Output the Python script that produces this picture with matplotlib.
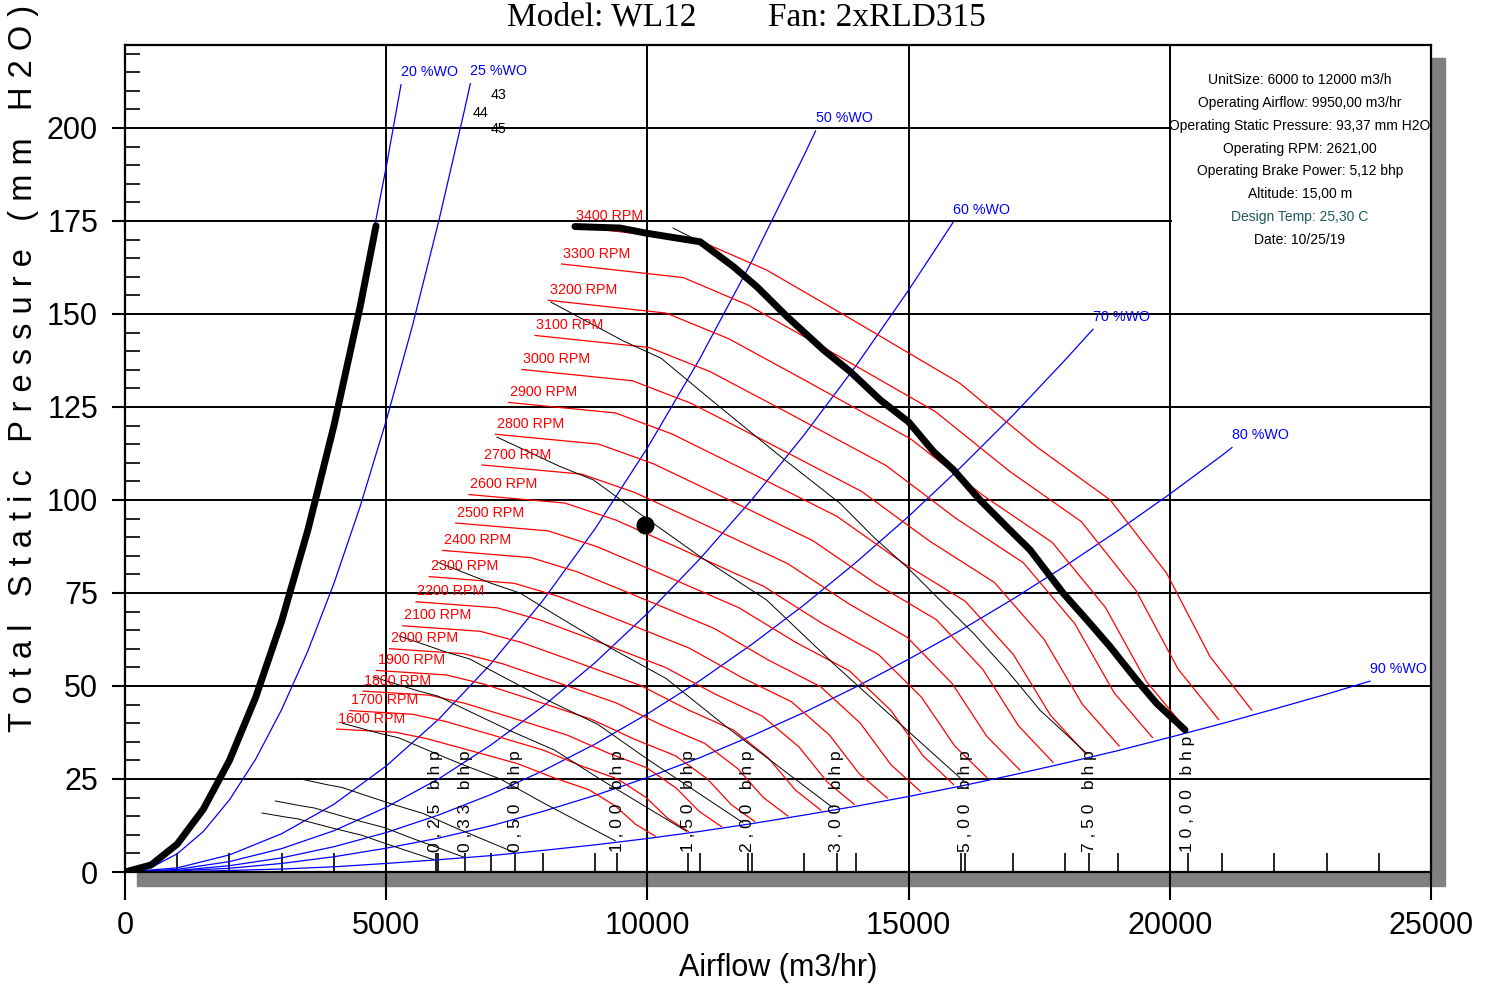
import matplotlib
matplotlib.use("Agg")
import matplotlib.pyplot as plt
from matplotlib import font_manager
from matplotlib.patches import Rectangle
from matplotlib.ticker import FixedLocator, MultipleLocator

# fan curves (constant RPM), airflow m3/hr vs static pressure mm H2O
rpm_labels = [1600, 1700, 1800, 1900, 2000, 2100, 2200, 2300, 2400, 2500,
              2600, 2700, 2800, 2900, 3000, 3100, 3200, 3300, 3400]
rpm_q = [
    [4052, 5181, 5780, 6532, 7520, 8212, 8875, 9384, 9774, 10151],
    [4305, 5505, 6141, 6940, 7990, 8725, 9430, 9970, 10385, 10785],
    [4558, 5829, 6503, 7348, 8460, 9238, 9985, 10556, 10996, 11419],
    [4812, 6153, 6864, 7757, 8930, 9752, 10539, 11143, 11607, 12054],
    [5065, 6476, 7225, 8165, 9400, 10265, 11094, 11729, 12218, 12688],
    [5318, 6800, 7586, 8573, 9870, 10778, 11649, 12316, 12828, 13323],
    [5571, 7124, 7948, 8981, 10340, 11291, 12204, 12902, 13439, 13957],
    [5825, 7448, 8309, 9390, 10810, 11805, 12758, 13489, 14050, 14591],
    [6078, 7772, 8670, 9798, 11280, 12318, 13313, 14075, 14661, 15226],
    [6331, 8096, 9032, 10206, 11750, 12831, 13868, 14662, 15272, 15860],
    [6584, 8419, 9393, 10614, 12220, 13344, 14422, 15248, 15883, 16495],
    [6837, 8743, 9754, 11022, 12690, 13857, 14977, 15835, 16494, 17129],
    [7091, 9067, 10115, 11431, 13160, 14371, 15532, 16421, 17105, 17763],
    [7344, 9391, 10477, 11839, 13630, 14884, 16087, 17008, 17716, 18398],
    [7597, 9715, 10838, 12247, 14100, 15397, 16641, 17594, 18326, 19032],
    [7850, 10038, 11199, 12655, 14570, 15910, 17196, 18181, 18937, 19667],
    [8104, 10362, 11560, 13064, 15040, 16424, 17751, 18767, 19548, 20301],
    [8357, 10686, 11922, 13472, 15510, 16937, 18305, 19354, 20159, 20936],
    [8610, 11010, 12283, 13880, 15980, 17450, 18860, 19940, 20770, 21570],
]
rpm_p = [
    [38.42, 37.56, 35.83, 32.95, 29.10, 25.31, 22.15, 17.78, 12.82, 9.63],
    [43.38, 42.40, 40.45, 37.20, 32.85, 28.57, 25.00, 20.08, 14.48, 10.88],
    [48.63, 47.53, 45.35, 41.71, 36.83, 32.04, 28.03, 22.51, 16.23, 12.19],
    [54.18, 52.96, 50.53, 46.47, 41.03, 35.69, 31.23, 25.08, 18.08, 13.58],
    [60.03, 58.69, 55.99, 51.49, 45.47, 39.55, 34.60, 27.79, 20.03, 15.05],
    [66.19, 64.70, 61.72, 56.77, 50.13, 43.60, 38.15, 30.63, 22.09, 16.59],
    [72.64, 71.01, 67.74, 62.30, 55.02, 47.86, 41.87, 33.62, 24.24, 18.21],
    [79.40, 77.61, 74.04, 68.09, 60.13, 52.30, 45.76, 36.75, 26.50, 19.91],
    [86.45, 84.51, 80.62, 74.14, 65.47, 56.95, 49.83, 40.01, 28.85, 21.67],
    [93.80, 91.70, 87.48, 80.45, 71.04, 61.80, 54.07, 43.42, 31.30, 23.52],
    [101.46, 99.18, 94.62, 87.01, 76.84, 66.84, 58.48, 46.96, 33.86, 25.44],
    [109.41, 106.95, 102.03, 93.84, 82.86, 72.08, 63.06, 50.64, 36.51, 27.43],
    [117.67, 115.02, 109.73, 100.92, 89.12, 77.52, 67.82, 54.46, 39.27, 29.50],
    [126.22, 123.39, 117.71, 108.25, 95.59, 83.15, 72.75, 58.42, 42.12, 31.65],
    [135.08, 132.04, 125.97, 115.85, 102.30, 88.99, 77.85, 62.52, 45.08, 33.87],
    [144.23, 140.99, 134.51, 123.70, 109.23, 95.02, 83.13, 66.76, 48.13, 36.16],
    [153.69, 150.23, 143.32, 131.81, 116.40, 101.25, 88.58, 71.13, 51.29, 38.53],
    [163.44, 159.78, 152.42, 140.18, 123.78, 107.67, 94.20, 75.65, 54.54, 40.98],
    [173.50, 169.60, 161.80, 148.80, 131.40, 114.30, 100.00, 80.30, 57.90, 43.50],
]

# system lines (% wide open)
wo_labels = [20, 25, 50, 60, 70, 80, 90]
wo_q = [
    [0, 500, 1000, 1500, 2000, 2500, 3000, 3500, 4000, 4500, 5000, 5283],
    [0, 500, 1000, 1500, 2000, 2500, 3000, 3500, 4000, 4500, 5000, 5500, 6000, 6500, 6610],
    [0, 1000, 2000, 3000, 4000, 5000, 6000, 7000, 8000, 9000, 10000, 11000, 12000, 13000, 13220],
    [0, 1000, 2000, 3000, 4000, 5000, 6000, 7000, 8000, 9000, 10000, 11000, 12000, 13000,
     14000, 15000, 15850],
    [0, 1000, 2000, 3000, 4000, 5000, 6000, 7000, 8000, 9000, 10000, 11000, 12000, 13000,
     14000, 15000, 16000, 17000, 18000, 18530],
    [0, 1000, 2000, 3000, 4000, 5000, 6000, 7000, 8000, 9000, 10000, 11000, 12000, 13000,
     14000, 15000, 16000, 17000, 18000, 19000, 20000, 21000, 21190],
    [0, 1000, 2000, 3000, 4000, 5000, 6000, 7000, 8000, 9000, 10000, 11000, 12000, 13000,
     14000, 15000, 16000, 17000, 18000, 19000, 20000, 21000, 22000, 23000, 23830],
]
wo_p = [
    [0, 1.9, 7.6, 17.1, 30.3, 47.4, 68.2, 92.9, 121.3, 153.5, 189.5, 211.6],
    [0, 1.2, 4.9, 10.9, 19.4, 30.3, 43.7, 59.4, 77.6, 98.2, 121.3, 146.7, 174.6, 204.9, 211.9],
    [0, 1.1, 4.6, 10.3, 18.2, 28.5, 41.0, 55.9, 73.0, 92.3, 114.0, 137.9, 164.2, 192.7, 199.2],
    [0, 0.7, 2.8, 6.3, 11.1, 17.4, 25.0, 34.1, 44.5, 56.3, 69.5, 84.1, 100.1, 117.5,
     136.2, 156.4, 174.6],
    [0, 0.4, 1.7, 3.8, 6.8, 10.6, 15.3, 20.8, 27.2, 34.4, 42.5, 51.4, 61.2, 71.8,
     83.3, 95.6, 108.8, 122.8, 137.7, 145.9],
    [0, 0.3, 1.0, 2.3, 4.1, 6.4, 9.1, 12.4, 16.3, 20.6, 25.4, 30.7, 36.6, 42.9,
     49.8, 57.2, 65.0, 73.4, 82.3, 91.7, 101.6, 112.0, 114.1],
    [0, 0.1, 0.4, 0.8, 1.4, 2.3, 3.3, 4.4, 5.8, 7.3, 9.0, 10.9, 13.0, 15.3,
     17.7, 20.3, 23.1, 26.1, 29.3, 32.6, 36.2, 39.9, 43.8, 47.8, 51.3],
]

# brake power lines
bhp_labels = ['0,25', '0,33', '0,50', '1,00', '1,50', '2,00', '3,00', '5,00', '7,50', '10,00']
bhp_label_q = [5950, 6510, 7470, 9420, 10780, 11920, 13620, 16080, 18460, 20340]
bhp_q = [
    [2623, 3068, 3303, 3608, 4055, 4525, 5019, 5513, 5913],
    [2878, 3365, 3623, 3958, 4448, 4964, 5505, 6047, 6486],
    [3306, 3865, 4161, 4547, 5109, 5702, 6324, 6946, 7450],
    [4164, 4870, 5243, 5728, 6437, 7184, 7967, 8751, 9386],
    [4767, 5574, 6001, 6557, 7368, 8223, 9120, 10017, 10744],
    [5247, 6135, 6605, 7217, 8110, 9051, 10038, 11026, 11826],
    [6006, 7023, 7561, 8261, 9283, 10360, 11490, 12621, 13537],
    [7121, 8327, 8965, 9795, 11007, 12284, 13624, 14964, 16050],
    [8151, 9532, 10262, 11212, 12600, 13687, 14325, 14964, 15601, 16239, 16878, 17515, 18409],
    [10490, 11011],
]
bhp_p = [
    [15.86, 14.79, 14.30, 13.15, 11.51, 9.92, 7.49, 5.18, 3.32],
    [19.09, 17.80, 17.21, 15.82, 13.85, 11.94, 9.01, 6.24, 4.00],
    [25.18, 23.48, 22.70, 20.87, 18.27, 15.75, 11.89, 8.23, 5.28],
    [39.98, 37.28, 36.05, 33.14, 29.00, 25.00, 18.88, 13.06, 8.38],
    [52.38, 48.84, 47.23, 43.42, 38.00, 32.76, 24.74, 17.12, 10.98],
    [63.47, 59.18, 57.22, 52.61, 46.04, 39.69, 29.97, 20.74, 13.30],
    [83.16, 77.54, 74.98, 68.93, 60.33, 52.00, 39.27, 27.18, 17.43],
    [116.9, 109.0, 105.4, 96.9, 84.8, 73.1, 55.2, 38.2, 24.5],
    [153.2, 142.8, 138.1, 127.0, 111.1, 99.1, 90.1, 82.0, 73.1, 64.2, 54.3, 43.5, 31.9],
    [173.1, 169.4],
]

# heavy limit lines
stall_q = [0, 500, 1000, 1500, 2000, 2500, 3000, 3500, 4000, 4500, 4805]
stall_p = [0, 1.9, 7.5, 16.9, 30.0, 46.9, 67.5, 91.9, 120.0, 151.9, 173.7]
limit_q = [8614, 9475, 9987, 11011, 11649, 12097, 12672, 13373, 13883, 14457, 14999,
           15478, 15860, 16366, 16941, 17324, 17962, 18473, 18855, 19366, 19749, 20291]
limit_p = [173.5, 173.1, 171.7, 169.4, 162.7, 157.3, 149.3, 140.3, 134.5, 126.9, 121.0,
           113.0, 108.1, 100.0, 91.9, 86.6, 74.9, 66.8, 60.6, 51.6, 45.3, 38.2]

op_q, op_p = 9950, 93.37

stray_labels = ['43', '44', '45']
stray_q = [6990, 6660, 6990]
stray_p = [208.9, 204.0, 199.7]

info_lines = ['UnitSize: 6000 to 12000 m3/h',
              'Operating Airflow: 9950,00 m3/hr',
              'Operating Static Pressure: 93,37 mm H2O',
              'Operating RPM: 2621,00',
              'Operating Brake Power: 5,12 bhp',
              'Altitude: 15,00 m',
              'Design Temp: 25,30 C',
              'Date: 10/25/19']
info_colors = ['black'] * 6 + ['#1e5a5a', 'black']

x_ticks = [0, 5000, 10000, 15000, 20000, 25000]
y_ticks = [0, 25, 50, 75, 100, 125, 150, 175, 200]

# fonts (no narrow face installed -> smaller regular face for the small labels)
names = {f.name for f in font_manager.fontManager.ttflist}
SANS = 'Liberation Sans' if 'Liberation Sans' in names else 'DejaVu Sans'
SERIF = 'Liberation Serif' if 'Liberation Serif' in names else 'DejaVu Serif'
plt.rcParams['font.family'] = SANS
SMALL = 10.3

W, H = 1495, 992
fig = plt.figure(figsize=(W / 100, H / 100), dpi=100)
# grey drop shadow behind the plot frame
fig.patches.append(Rectangle((137 / W, (H - 886) / H), 1308 / W, 828 / H,
                             transform=fig.transFigure, color='#808080', zorder=-1))
ax = fig.add_axes([125 / W, 120 / H, 1306 / W, 827 / H])
ax.set_xlim(0, 25000)
ax.set_ylim(0, 222.3)

ax.set_xticks(x_ticks)
ax.set_yticks(y_ticks)
ax.xaxis.set_minor_locator(FixedLocator(sorted(set(range(1000, 25000, 1000)) | set(bhp_label_q))))
ax.yaxis.set_minor_locator(MultipleLocator(5))
ax.tick_params(axis='x', which='major', direction='out', length=20, width=1.5, labelsize=22, pad=8)
ax.tick_params(axis='x', which='minor', direction='in', length=13.7, width=1.2)
ax.tick_params(axis='y', which='major', direction='out', length=9.4, width=1.5, labelsize=22, pad=10)
ax.tick_params(axis='y', which='minor', direction='in', length=10.8, width=1.2)
ax.grid(True, which='major', color='black', linewidth=1.4)
ax.set_axisbelow(True)
for s in ax.spines.values():
    s.set_linewidth(1.6)

# info box (white, hides grid on the right top)
ax.add_patch(Rectangle((20040, 160), 4960, 62.3, facecolor='white', edgecolor='none', zorder=1))
for i, (line, c) in enumerate(zip(info_lines, info_colors)):
    ax.text(22490, 212.9 - i * 6.15, line, ha='center', va='center', color=c,
            fontsize=10, zorder=6)

# system lines
for w, q, p in zip(wo_labels, wo_q, wo_p):
    ax.plot(q, p, color='blue', lw=0.9, zorder=2)
    ax.annotate(f'{w} %WO', xy=(q[-1], p[-1]), xytext=(0, 9), textcoords='offset points',
                ha='left', va='center', color='blue', fontsize=SMALL)

# rpm curves
for n, q, p in zip(rpm_labels, rpm_q, rpm_p):
    ax.plot(q, p, color='red', lw=0.9, zorder=2.2)
    ax.annotate(f'{n} RPM', xy=(q[0], p[0]), xytext=(1, 7.5), textcoords='offset points',
                ha='left', va='center', color='red', fontsize=SMALL)

# bhp lines + labels
for q, p in zip(bhp_q, bhp_p):
    ax.plot(q, p, color='black', lw=0.7, zorder=2.5)
for lab, q in zip(bhp_labels, bhp_label_q):
    txt = ' '.join(lab) + '   b h p'
    ax.text(q, 5.3, txt, rotation=90, ha='center', va='bottom', fontsize=12.5)

# heavy limit curves and operating point
ax.plot(stall_q, stall_p, color='black', lw=5, solid_capstyle='round', zorder=4)
ax.plot(limit_q, limit_p, color='black', lw=5, solid_capstyle='round', zorder=4)
ax.plot([op_q], [op_p], 'o', color='black', ms=12, zorder=5)

for lab, q, p in zip(stray_labels, stray_q, stray_p):
    ax.text(q, p, lab, ha='left', va='center', fontsize=SMALL)

# titles / axis labels
fig.text(507 / W, 1 - 26 / H, 'Model: WL12', family=SERIF, fontsize=24, va='baseline', ha='left')
fig.text(768 / W, 1 - 26 / H, 'Fan: 2xRLD315', family=SERIF, fontsize=24, va='baseline', ha='left')
ylab = '   '.join(' '.join(word) for word in 'Total Static Pressure (mm H2O)'.split())
fig.text(24 / W, 1 - 368 / H, ylab, rotation=90, ha='center', va='center', fontsize=23.5)
fig.text(778 / W, 1 - 968 / H, 'Airflow (m3/hr)', ha='center', va='center', fontsize=22)

fig.savefig('out.png', dpi=100)
